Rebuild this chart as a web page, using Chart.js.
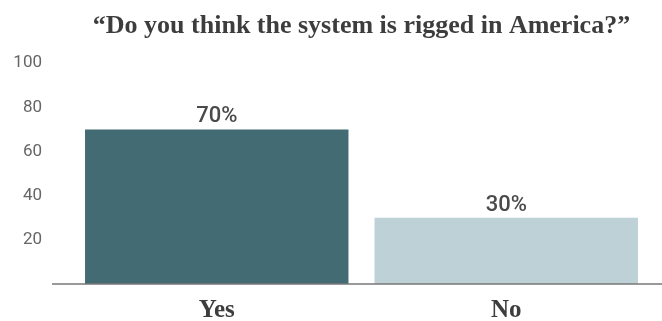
<!DOCTYPE html>
<html>
<head>
<meta charset="utf-8">
<script src="https://cdn.jsdelivr.net/npm/chart.js@4"></script>
<style>
  html, body { margin: 0; padding: 0; background: #fff; }
  #wrap { width: 662px; height: 321px; }
</style>
</head>
<body>
<div id="wrap"><canvas id="chart" width="662" height="321"></canvas></div>
<script>
// Chart data
const categories = ['Yes', 'No'];
const shares = [70, 30];
const barColors = ['#436b73', '#bdd1d7'];
const yTicks = [0, 20, 40, 60, 80, 100];

// Value labels above bars
const valueLabels = {
    id: 'valueLabels',
    afterDatasetsDraw(chart) {
        const ctx = chart.ctx;
        const meta = chart.getDatasetMeta(0);
        ctx.save();
        ctx.font = '500 22px Roboto';
        ctx.fillStyle = '#4a4a4a';
        ctx.textAlign = 'center';
        ctx.textBaseline = 'alphabetic';
        meta.data.forEach((bar, i) => {
            ctx.fillText(shares[i] + '%', bar.x, bar.y - 7);
        });
        ctx.restore();
    }
};

// Baseline across the full width
const baseline = {
    id: 'baseline',
    afterDatasetsDraw(chart) {
        const ctx = chart.ctx;
        const y = chart.scales.y.getPixelForValue(0);
        ctx.save();
        ctx.strokeStyle = '#777';
        ctx.lineWidth = 1.5;
        ctx.beginPath();
        ctx.moveTo(chart.chartArea.left - 20, y);
        ctx.lineTo(chart.width, y);
        ctx.stroke();
        ctx.restore();
    }
};

new Chart(document.getElementById('chart'), {
    type: 'bar',
    data: {
        labels: categories,
        datasets: [{
            data: shares,
            backgroundColor: barColors,
            barPercentage: 1,
            categoryPercentage: 0.91
        }]
    },
    options: {
        responsive: false,
        animation: false,
        layout: { padding: { left: 0, right: 11, top: 0, bottom: 0 } },
        plugins: {
            legend: { display: false },
            tooltip: { enabled: false },
            title: {
                display: true,
                fullSize: false,
                text: '\u201cDo you think the system is rigged in America?\u201d',
                font: { family: 'Liberation Serif', size: 26, weight: 'bold' },
                color: '#3d3d3d',
                padding: { top: 11, bottom: 21 }
            }
        },
        scales: {
            x: {
                grid: { display: false, drawTicks: false },
                border: { display: false },
                ticks: {
                    color: '#3d3d3d',
                    font: { family: 'Liberation Serif', size: 25, weight: 'bold', lineHeight: 1 },
                    padding: 14
                },
                afterFit(scale) { scale.height = 37; }
            },
            y: {
                min: yTicks[0],
                max: yTicks[yTicks.length - 1],
                grid: { display: false, drawTicks: false },
                border: { display: false },
                afterBuildTicks(scale) {
                    scale.ticks = yTicks.map(v => ({ value: v }));
                },
                ticks: {
                    color: '#666',
                    font: { family: 'Roboto', size: 17 },
                    padding: 30,
                    callback: v => v === 0 ? '' : v
                },
                // tick padding would otherwise leak into the vertical layout padding
                afterFit(scale) {
                    scale.width = 72;
                    scale.paddingTop = 0;
                    scale.paddingBottom = 0;
                }
            }
        }
    },
    plugins: [valueLabels, baseline]
});
</script>
</body>
</html>
